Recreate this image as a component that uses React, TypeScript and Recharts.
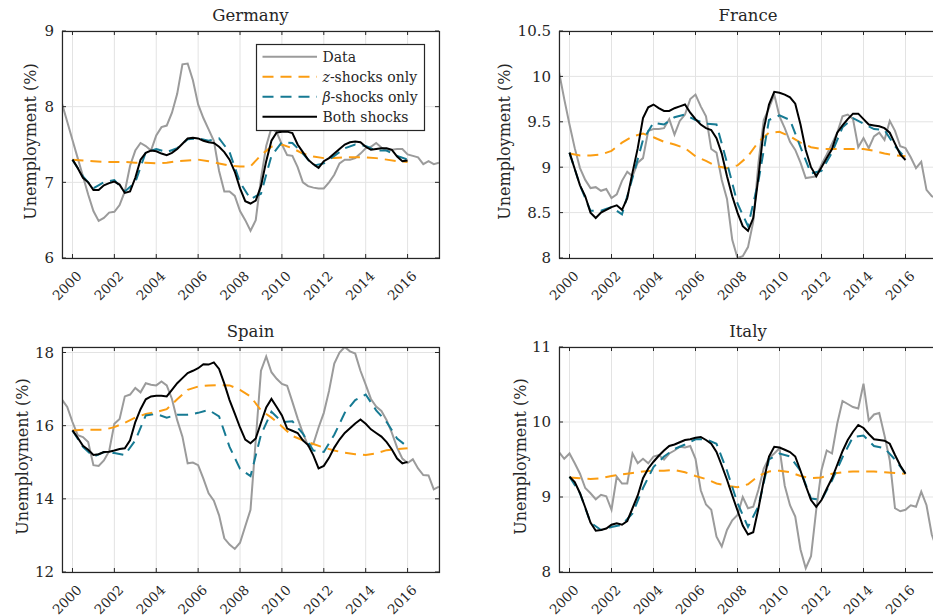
import { LineChart, Line, XAxis, YAxis, CartesianGrid } from 'recharts'

const FONT = '"DejaVu Serif", serif'
const INK = '#262626'
const GRID = '#e3e3e3'
const C_DATA = '#9b9b9b'
const C_Z = '#fb9d12'
const C_BETA = '#167a93'
const C_BOTH = '#000000'
const DASH = '11 7'

// axis ticks
const yearTicks = [2000, 2002, 2004, 2006, 2008, 2010, 2012, 2014, 2016]
const xDomain = [1999.5, 2017.5]

// quarterly data starts 1999Q3, model runs start 2000Q1
const dataStart = 1999.5
const modelStart = 2000

// ---- Germany ----
const germanyData = [
  8.04, 7.8,
  7.56, 7.32, 7.08, 6.84,
  6.62, 6.49, 6.53, 6.6,
  6.61, 6.7, 6.88, 7.22,
  7.42, 7.52, 7.48, 7.42,
  7.62, 7.73, 7.75, 7.92,
  8.17, 8.56, 8.57, 8.35,
  8.03, 7.85, 7.7, 7.55,
  7.15, 6.88, 6.88, 6.82,
  6.62, 6.5, 6.36, 6.5,
  7.05, 7.48, 7.72, 7.66,
  7.5, 7.36, 7.35, 7.2,
  7.0, 6.95, 6.93, 6.92,
  6.92, 7.0, 7.1, 7.25,
  7.3, 7.3, 7.32, 7.38,
  7.45, 7.47, 7.52, 7.46,
  7.42, 7.43, 7.44, 7.44,
  7.37, 7.35, 7.33, 7.24,
  7.28, 7.24, 7.26,
]
const germanyBoth = [
  7.3, 7.19, 7.06, 7.0,
  6.9, 6.9, 6.96, 6.99,
  7.01, 6.97, 6.86, 6.88,
  7.06, 7.3, 7.39, 7.42,
  7.41, 7.38, 7.36, 7.39,
  7.44, 7.51, 7.58, 7.59,
  7.58, 7.55, 7.53, 7.52,
  7.47, 7.4, 7.3, 7.14,
  6.92, 6.75, 6.72, 6.76,
  6.95, 7.28, 7.55, 7.66,
  7.67, 7.67, 7.65, 7.5,
  7.4, 7.3, 7.24, 7.19,
  7.28, 7.32, 7.38, 7.44,
  7.5, 7.53, 7.54, 7.53,
  7.47, 7.43, 7.44, 7.45,
  7.45, 7.43, 7.34, 7.28,
  7.29,
]
// half-yearly
const germanyBeta = [
  7.3, 7.08, 6.92, 7.0, 7.03, 6.88, 7.0, 7.4, 7.44, 7.4, 7.45, 7.57, 7.58, 7.55, 7.58, 7.4,
  7.0, 6.78, 6.85, 7.35, 7.53, 7.52, 7.38, 7.22, 7.25, 7.35, 7.45, 7.5, 7.48, 7.42, 7.42, 7.35, 7.3,
]
const germanyZ = [
  7.3, 7.29, 7.28, 7.27, 7.27, 7.27, 7.26, 7.26, 7.25, 7.26, 7.28, 7.29, 7.3, 7.28, 7.25, 7.22,
  7.21, 7.21, 7.36, 7.47, 7.5, 7.45, 7.38, 7.34, 7.32, 7.32, 7.33, 7.33, 7.33, 7.32, 7.3, 7.28, 7.27,
]

// ---- France ----
const franceData = [
  10.05, 9.75,
  9.47, 9.21, 8.99, 8.86,
  8.77, 8.78, 8.74, 8.76,
  8.66, 8.7, 8.85, 8.95,
  8.9, 9.05, 9.1, 9.4,
  9.42, 9.42, 9.43, 9.53,
  9.36, 9.51, 9.58, 9.75,
  9.8, 9.67, 9.56, 9.2,
  9.16, 8.86, 8.65, 8.2,
  8.0, 8.02, 8.12, 8.4,
  9.05, 9.52, 9.65, 9.8,
  9.56, 9.43, 9.28, 9.19,
  9.05, 8.88, 8.89, 8.9,
  9.03, 9.14, 9.26, 9.38,
  9.56, 9.58, 9.53, 9.22,
  9.32, 9.21, 9.34, 9.38,
  9.3, 9.51, 9.4, 9.23,
  9.21, 9.11, 8.99, 9.06,
  8.75, 8.68, 8.66,
]
const franceBoth = [
  9.16, 8.98, 8.8, 8.68,
  8.5, 8.44, 8.5, 8.53,
  8.56, 8.58, 8.53, 8.66,
  8.94, 9.21, 9.54, 9.66,
  9.69, 9.65, 9.62, 9.62,
  9.65, 9.67, 9.69, 9.6,
  9.53, 9.47, 9.43, 9.41,
  9.32, 9.15, 8.9, 8.68,
  8.5, 8.35, 8.3, 8.44,
  8.9, 9.42, 9.69, 9.83,
  9.82, 9.8, 9.77, 9.7,
  9.47, 9.19, 9.0, 8.9,
  9.0, 9.1, 9.2, 9.38,
  9.46, 9.53, 9.59, 9.59,
  9.53, 9.47, 9.46, 9.45,
  9.43, 9.38, 9.26, 9.14,
  9.08,
]
const franceBeta = [
  9.16, 8.8, 8.52, 8.52, 8.56, 8.48, 8.88, 9.3, 9.49, 9.47, 9.55, 9.58, 9.52, 9.48, 9.47, 9.05,
  8.6, 8.35, 8.85, 9.52, 9.57, 9.52, 9.22, 8.93, 8.96, 9.16, 9.44, 9.54, 9.48, 9.42, 9.41, 9.23, 9.1,
]
const franceZ = [
  9.15, 9.13, 9.13, 9.14, 9.18, 9.27, 9.34, 9.37, 9.33, 9.28, 9.25, 9.21, 9.12, 9.07, 9.01, 8.99,
  9.02, 9.12, 9.28, 9.38, 9.39, 9.34, 9.27, 9.22, 9.2, 9.2, 9.2, 9.2, 9.2, 9.18, 9.15, 9.13, 9.12,
]

// ---- Spain ----
const spainData = [
  16.71, 16.51,
  16.1, 15.74, 15.69, 15.55,
  14.92, 14.9, 15.05, 15.3,
  16.05, 16.18, 16.8, 16.85,
  17.03, 16.91, 17.16, 17.12,
  17.1, 17.21, 17.1, 16.73,
  16.15, 15.7, 14.97, 14.99,
  14.92, 14.55, 14.15, 13.95,
  13.55, 12.92, 12.75, 12.63,
  12.8, 13.25, 13.7, 15.6,
  17.5, 17.89, 17.46, 17.28,
  17.14, 17.09, 16.65, 16.2,
  15.8, 15.45, 15.5, 15.95,
  16.35, 16.95, 17.7, 18.0,
  18.15, 18.03, 17.97, 17.5,
  17.12, 16.73, 16.52, 16.4,
  16.15, 15.8, 15.4, 15.1,
  14.98, 15.08, 14.83, 14.65,
  14.64, 14.26, 14.33,
]
const spainBoth = [
  15.87, 15.67, 15.45, 15.34,
  15.2, 15.22, 15.28, 15.29,
  15.32, 15.36, 15.38, 15.6,
  16.1, 16.45, 16.72, 16.8,
  16.82, 16.82, 16.8, 16.98,
  17.16, 17.3, 17.44, 17.5,
  17.57, 17.68, 17.67, 17.73,
  17.55, 17.15, 16.7, 16.33,
  15.95, 15.62, 15.52, 15.65,
  16.08, 16.5, 16.73, 16.51,
  16.28, 15.92, 15.86, 15.8,
  15.6, 15.47, 15.19, 14.83,
  14.9, 15.12, 15.4, 15.62,
  15.8, 15.93, 16.06, 16.17,
  16.05, 15.9, 15.8, 15.7,
  15.55, 15.35, 15.1, 14.97,
  15.01,
]
const spainBeta = [
  15.87, 15.42, 15.15, 15.28, 15.25, 15.2, 15.6, 16.28, 16.32, 16.22, 16.3, 16.3, 16.35, 16.43, 16.25, 15.42,
  14.82, 14.62, 15.75, 16.38, 16.1, 16.12, 15.78, 15.32, 15.28, 15.75, 16.35, 16.7, 16.85, 16.42, 16.1, 15.65, 15.42,
]
const spainZ = [
  15.87, 15.89, 15.89, 15.89, 15.96, 16.08, 16.22, 16.32, 16.37, 16.45, 16.72, 16.98, 17.07, 17.1, 17.11, 17.1,
  16.98, 16.8, 16.42, 16.22, 15.98, 15.72, 15.6, 15.5, 15.4, 15.32, 15.26, 15.22, 15.2, 15.24, 15.33, 15.36, 15.38,
]

// ---- Italy ----
const italyData = [
  9.6, 9.51,
  9.58, 9.45, 9.31, 9.12,
  9.05, 8.97, 9.03, 9.01,
  8.83, 9.27, 9.18, 9.18,
  9.58, 9.45, 9.51, 9.45,
  9.54, 9.56, 9.5, 9.58,
  9.62, 9.67, 9.66, 9.68,
  9.51, 9.09, 8.9, 8.83,
  8.47, 8.34, 8.56, 8.69,
  8.76, 9.0, 8.85, 8.87,
  9.1, 9.38, 9.52, 9.58,
  9.65, 9.15, 8.89, 8.74,
  8.3, 8.05, 8.21, 8.83,
  9.36, 9.62, 9.58, 9.98,
  10.28, 10.24, 10.2, 10.18,
  10.51, 10.02, 10.1, 10.12,
  9.82, 9.49, 8.85, 8.81,
  8.83, 8.89, 8.87, 9.07,
  8.89, 8.5, 8.3,
]
const italyBoth = [
  9.27, 9.2, 9.05, 8.86,
  8.66, 8.55, 8.56, 8.58,
  8.63, 8.65, 8.63, 8.68,
  8.85, 9.02, 9.25, 9.38,
  9.47, 9.55, 9.62, 9.68,
  9.7, 9.73, 9.76, 9.77,
  9.79, 9.8, 9.76, 9.71,
  9.6, 9.42, 9.23, 9.02,
  8.82, 8.62, 8.5, 8.53,
  8.85, 9.22, 9.54, 9.67,
  9.66, 9.63, 9.6, 9.54,
  9.35, 9.15, 8.96, 8.87,
  8.96, 9.11, 9.25, 9.43,
  9.61, 9.76, 9.87, 9.96,
  9.92, 9.84, 9.77, 9.76,
  9.75, 9.71, 9.56, 9.42,
  9.31,
]
const italyBeta = [
  9.27, 9.05, 8.66, 8.56, 8.6, 8.63, 8.78, 9.12, 9.4, 9.54, 9.64, 9.7, 9.77, 9.77, 9.71, 9.35,
  8.92, 8.6, 8.88, 9.5, 9.58, 9.54, 9.35, 8.98, 8.96, 9.22, 9.53, 9.8, 9.82, 9.68, 9.65, 9.5, 9.31,
]
const italyZ = [
  9.26, 9.25, 9.24, 9.25, 9.28, 9.3, 9.32, 9.34, 9.35, 9.35, 9.36, 9.33, 9.28, 9.24, 9.18, 9.15,
  9.13, 9.17, 9.28, 9.34, 9.35, 9.33, 9.28, 9.25, 9.26, 9.31, 9.33, 9.34, 9.34, 9.34, 9.33, 9.32, 9.31,
]

const toRows = (start: number, step: number, vals: number[]) => vals.map((v, i) => ({ t: start + i * step, v }))

type PanelCfg = {
  title: string
  left: number
  top: number
  w: number
  h: number
  domain: number[]
  ticks: number[]
  labelGap: number
  data: number[]
  z: number[]
  beta: number[]
  both: number[]
}

const YW = 60
const XH = 50
const MT = 12

const panels: PanelCfg[] = [
  { title: 'Germany', left: 62, top: 31, w: 377, h: 227, domain: [6, 9], ticks: [6, 7, 8, 9], labelGap: 26, data: germanyData, z: germanyZ, beta: germanyBeta, both: germanyBoth },
  { title: 'France', left: 559, top: 31, w: 378, h: 227, domain: [8, 10.5], ticks: [8, 8.5, 9, 9.5, 10, 10.5], labelGap: 49, data: franceData, z: franceZ, beta: franceBeta, both: franceBoth },
  { title: 'Spain', left: 62, top: 347, w: 377, h: 225, domain: [12, 18.15], ticks: [12, 14, 16, 18], labelGap: 34, data: spainData, z: spainZ, beta: spainBeta, both: spainBoth },
  { title: 'Italy', left: 559, top: 347, w: 378, h: 225, domain: [8, 11], ticks: [8, 9, 10, 11], labelGap: 33, data: italyData, z: italyZ, beta: italyBeta, both: italyBoth },
]

function XTick(props: any) {
  const { x, y, payload } = props
  return (
    <text transform={`translate(${x + 10},${y + 19}) rotate(-45)`} textAnchor="end" fontSize={13.5} fill={INK} fontFamily={FONT}>
      {payload.value}
    </text>
  )
}

function Panel({ p }: { p: PanelCfg }) {
  return (
    <div style={{ position: 'absolute', left: p.left - YW, top: p.top - MT }}>
      <LineChart width={p.w + YW} height={p.h + XH + MT} margin={{ top: MT, right: 0, bottom: 0, left: 0 }}>
        <CartesianGrid stroke={GRID} strokeWidth={1} />
        <XAxis
          type="number"
          dataKey="t"
          domain={xDomain}
          ticks={yearTicks}
          interval={0}
          allowDataOverflow
          height={XH}
          tickLine={false}
          axisLine={false}
          tickSize={0}
          tickMargin={0}
          tick={<XTick />}
        />
        <YAxis
          type="number"
          domain={p.domain}
          ticks={p.ticks}
          interval={0}
          allowDataOverflow
          width={YW}
          tickLine={false}
          axisLine={false}
          tickSize={0}
          tickMargin={8}
          tick={{ fontSize: 15, fill: INK, fontFamily: FONT }}
        />
        <Line data={toRows(dataStart, 0.25, p.data)} dataKey="v" stroke={C_DATA} strokeWidth={2} dot={false} isAnimationActive={false} />
        <Line data={toRows(modelStart, 0.5, p.z)} dataKey="v" stroke={C_Z} strokeWidth={2} strokeDasharray={DASH} dot={false} isAnimationActive={false} />
        <Line data={toRows(modelStart, 0.5, p.beta)} dataKey="v" stroke={C_BETA} strokeWidth={2} strokeDasharray={DASH} dot={false} isAnimationActive={false} />
        <Line data={toRows(modelStart, 0.25, p.both)} dataKey="v" stroke={C_BOTH} strokeWidth={2} dot={false} isAnimationActive={false} />
      </LineChart>
    </div>
  )
}

const legendItems = [
  { label: 'Data', color: C_DATA, dash: undefined as string | undefined, sym: '' },
  { label: '-shocks only', color: C_Z, dash: DASH, sym: 'z' },
  { label: '-shocks only', color: C_BETA, dash: DASH, sym: 'β' },
  { label: 'Both shocks', color: C_BOTH, dash: undefined, sym: '' },
]

// small inward tick marks on the box, like the original axes
function BoxTicks({ p }: { p: PanelCfg }) {
  const sx = (t: number) => p.left + ((t - xDomain[0]) / (xDomain[1] - xDomain[0])) * p.w
  const sy = (v: number) => p.top + p.h - ((v - p.domain[0]) / (p.domain[1] - p.domain[0])) * p.h
  return (
    <g stroke={INK} strokeWidth={1}>
      {yearTicks.map((t) => (
        <g key={'x' + t}>
          <line x1={sx(t)} x2={sx(t)} y1={p.top + p.h} y2={p.top + p.h - 4} />
          <line x1={sx(t)} x2={sx(t)} y1={p.top} y2={p.top + 4} />
        </g>
      ))}
      {p.ticks.map((v) => (
        <g key={'y' + v}>
          <line x1={p.left} x2={p.left + 4} y1={sy(v)} y2={sy(v)} />
          <line x1={p.left + p.w} x2={p.left + p.w - 4} y1={sy(v)} y2={sy(v)} />
        </g>
      ))}
    </g>
  )
}

export default function App() {
  return (
    <div style={{ position: 'relative', width: 933, height: 616, overflow: 'hidden', background: '#fff' }}>
      <style>{'body{margin:0}'}</style>
      {panels.map((p) => (
        <Panel key={p.title} p={p} />
      ))}
      <svg width={933} height={616} style={{ position: 'absolute', left: 0, top: 0, pointerEvents: 'none' }}>
        {panels.map((p) => (
          <g key={p.title}>
            <BoxTicks p={p} />
            <rect x={p.left + 0.5} y={p.top + 0.5} width={p.w} height={p.h} fill="none" stroke={INK} strokeWidth={1.2} />
            <text x={p.left + p.w / 2} y={p.top - 10} textAnchor="middle" fontSize={16.5} fill={INK} fontFamily={FONT}>
              {p.title}
            </text>
            <text
              transform={`translate(${p.left - p.labelGap},${p.top + p.h / 2 - 3}) rotate(-90)`}
              textAnchor="middle"
              fontSize={16}
              fill={INK}
              fontFamily={FONT}
            >
              Unemployment (%)
            </text>
          </g>
        ))}
        <g>
          <rect x={256.5} y={44.5} width={168} height={86} fill="#fff" stroke={INK} strokeWidth={1.2} />
          {legendItems.map((it, i) => {
            const cy = 56.7 + i * 20
            return (
              <g key={i}>
                <line x1={262.5} x2={317} y1={cy} y2={cy} stroke={it.color} strokeWidth={2} strokeDasharray={it.dash} />
                <text x={322.5} y={cy + 5} fontSize={14} fill={INK} fontFamily={FONT}>
                  {it.sym && <tspan fontStyle="italic">{it.sym}</tspan>}
                  {it.label}
                </text>
              </g>
            )
          })}
        </g>
      </svg>
    </div>
  )
}
